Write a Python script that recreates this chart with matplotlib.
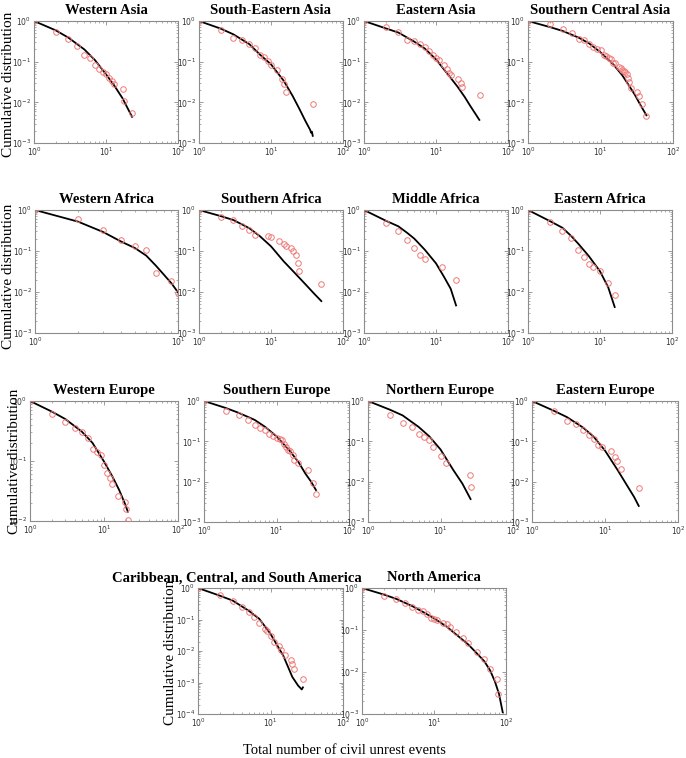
import matplotlib
matplotlib.use("Agg")
import matplotlib.pyplot as plt
from matplotlib.ticker import NullFormatter, LogLocator

plt.rcParams['mathtext.fontset'] = 'custom'
plt.rcParams['mathtext.rm'] = 'Liberation Sans'
plt.rcParams['mathtext.it'] = 'Liberation Sans'

# ---------------- data ----------------
titles = ["Western Asia", "South-Eastern Asia", "Eastern Asia", "Southern Central Asia",
          "Western Africa", "Southern Africa", "Middle Africa", "Eastern Africa",
          "Western Europe", "Southern Europe", "Northern Europe", "Eastern Europe",
          "Caribbean, Central, and South America", "North America"]

wasia_x = [1, 2, 3, 4, 5, 6, 7, 8, 9, 10, 11, 12, 13, 17, 18, 23]
wasia_y = [1, 0.54, 0.37, 0.24, 0.15, 0.125, 0.081, 0.065, 0.056, 0.049, 0.04, 0.034, 0.028, 0.021, 0.0108, 0.0056]
wasia_fx = [1, 2, 3, 5, 7, 10, 13, 17, 23]
wasia_fy = [1, 0.59, 0.39, 0.2, 0.11, 0.049, 0.026, 0.0125, 0.0044]

seasia_x = [1, 2, 3, 4, 5, 6, 7, 8, 9, 10, 12, 14, 15, 16, 38]
seasia_y = [1, 0.6, 0.39, 0.34, 0.27, 0.22, 0.15, 0.13, 0.104, 0.081, 0.062, 0.037, 0.028, 0.018, 0.0093]
seasia_fx = [1, 2, 3, 5, 7, 10, 15, 20, 25, 30, 35, 36, 37, 38]
seasia_fy = [1, 0.65, 0.47, 0.27, 0.15, 0.086, 0.034, 0.0143, 0.0067, 0.0035, 0.0021, 0.0018, 0.0019, 0.0015]

easia_x = [1, 2, 3, 4, 5, 6, 7, 8, 9, 10, 11, 13, 14, 15, 16, 20, 22, 23, 41]
easia_y = [1, 0.73, 0.55, 0.35, 0.32, 0.27, 0.23, 0.18, 0.15, 0.12, 0.11, 0.081, 0.067, 0.054, 0.046, 0.037, 0.03, 0.024, 0.0148]
easia_fx = [1, 2, 3, 5, 7, 10, 15, 20, 25, 30, 40]
easia_fy = [1, 0.66, 0.52, 0.31, 0.21, 0.114, 0.046, 0.024, 0.0136, 0.0081, 0.0037]

scasia_x = [1, 2, 3, 4, 5, 6, 7, 8, 9, 10, 11, 12, 13, 14, 15, 16, 18, 19, 20, 21, 22, 23.5, 24, 25, 26, 31.5, 34, 37.5, 43]
scasia_y = [1, 0.83, 0.62, 0.5, 0.37, 0.34, 0.27, 0.23, 0.21, 0.19, 0.15, 0.14, 0.12, 0.115, 0.094, 0.091, 0.074,
            0.069, 0.061, 0.059, 0.056, 0.049, 0.04, 0.032, 0.023, 0.018, 0.0143, 0.0093, 0.0046]
scasia_fx = [1, 2, 3, 5, 7, 10, 15, 20, 25, 30, 35, 43]
scasia_fy = [1, 0.71, 0.57, 0.39, 0.28, 0.17, 0.086, 0.046, 0.025, 0.015, 0.009, 0.0048]

wafr_x = [1, 2, 3, 4, 5, 6, 7, 9, 10]
wafr_y = [1, 0.61, 0.32, 0.19, 0.13, 0.104, 0.029, 0.019, 0.0097]
wafr_fx = [1, 2, 3, 4, 5, 6, 7, 8, 9, 10]
wafr_fy = [1, 0.52, 0.29, 0.17, 0.118, 0.077, 0.044, 0.026, 0.0163, 0.0098]

safr_x = [1, 2, 3, 4, 5, 6, 9, 10, 13, 15, 16, 19, 20.5, 22, 24, 24.5, 50]
safr_y = [1, 0.67, 0.58, 0.4, 0.32, 0.24, 0.23, 0.22, 0.18, 0.15, 0.13, 0.12, 0.1, 0.08, 0.05, 0.032, 0.016]
safr_fx = [1, 2, 3, 5, 7, 10, 15, 20, 30, 40, 50]
safr_fy = [1, 0.71, 0.57, 0.36, 0.23, 0.13, 0.056, 0.033, 0.0155, 0.009, 0.006]

mafr_x = [1, 2, 3, 4, 5, 6, 7, 12, 19]
mafr_y = [1, 0.49, 0.3, 0.19, 0.12, 0.08, 0.063, 0.041, 0.02]
mafr_fx = [1, 2, 3, 4, 5, 7, 10, 13, 16, 19]
mafr_fy = [1, 0.55, 0.4, 0.275, 0.2, 0.107, 0.05, 0.023, 0.012, 0.0047]

eafr_x = [1, 2, 3, 4, 5, 6, 7, 8, 10, 13, 16]
eafr_y = [1, 0.5, 0.31, 0.21, 0.106, 0.073, 0.048, 0.04, 0.033, 0.0164, 0.0085]
eafr_fx = [1, 2, 3, 4, 5, 7, 10, 13, 16]
eafr_fy = [1, 0.54, 0.37, 0.23, 0.15, 0.075, 0.032, 0.013, 0.0043]

weur_x = [1, 2, 3, 4, 5, 6, 7, 8, 9, 10, 11, 12, 13, 15.7, 19, 20, 21]
weur_y = [1, 0.6, 0.44, 0.36, 0.3, 0.24, 0.16, 0.14, 0.126, 0.086, 0.064, 0.053, 0.042, 0.026, 0.021, 0.016, 0.0105]
weur_fx = [1, 2, 3, 5, 7, 10, 13, 16, 19, 21]
weur_fy = [1, 0.66, 0.5, 0.31, 0.2, 0.098, 0.055, 0.033, 0.02, 0.0143]

seur_x = [1, 2, 3, 4, 5, 6, 7, 8, 9, 10, 11, 12, 12.6, 13.5, 14.5, 15.5, 17, 17.5, 19.5, 27.4, 32, 34.6]
seur_y = [1, 0.56, 0.44, 0.33, 0.26, 0.22, 0.195, 0.155, 0.135, 0.12, 0.112, 0.105, 0.084, 0.072, 0.062, 0.057,
          0.045, 0.034, 0.029, 0.02, 0.0095, 0.0049]
seur_fx = [1, 2, 3, 5, 7, 10, 15, 20, 25, 30, 35]
seur_fy = [1, 0.67, 0.51, 0.34, 0.227, 0.133, 0.06, 0.031, 0.0159, 0.01, 0.0062]

neur_x = [1, 2, 3, 4, 5, 6, 7, 8, 10, 12, 25.8, 26.5]
neur_y = [1, 0.46, 0.29, 0.227, 0.155, 0.128, 0.106, 0.073, 0.043, 0.029, 0.0149, 0.0074]
neur_fx = [1, 2, 3, 5, 7, 10, 15, 20, 26]
neur_fy = [1, 0.61, 0.44, 0.227, 0.133, 0.063, 0.0195, 0.009, 0.0037]

eeur_x = [1, 2, 3, 4, 5, 6, 7, 8, 9, 12, 13.5, 14.5, 16.5, 29]
eeur_y = [1, 0.55, 0.32, 0.27, 0.19, 0.14, 0.113, 0.081, 0.072, 0.056, 0.04, 0.033, 0.021, 0.007]
eeur_fx = [1, 2, 3, 5, 7, 10, 15, 20, 25, 29]
eeur_fy = [1, 0.57, 0.4, 0.22, 0.13, 0.059, 0.019, 0.0081, 0.0042, 0.0025]

csam_x = [1, 2, 3, 4, 5, 6, 7, 8.5, 9, 10, 11, 13, 14, 16, 19, 20, 21, 28.5]
csam_y = [1, 0.61, 0.38, 0.25, 0.17, 0.117, 0.078, 0.051, 0.042, 0.031, 0.019, 0.014, 0.011, 0.0076, 0.0052,
          0.0039, 0.0026, 0.0013]
csam_fx = [1, 2, 3, 5, 7, 10, 15, 20, 24, 27, 28]
csam_fy = [1, 0.57, 0.4, 0.19, 0.105, 0.035, 0.0071, 0.0015, 0.0008, 0.0006, 0.0007]

nam_x = [1, 2, 3, 4, 5, 6, 7, 8, 9, 10, 11, 13.5, 15, 16.5, 20, 25, 30, 40, 50, 60, 75, 78]
nam_y = [1, 0.65, 0.55, 0.45, 0.36, 0.3, 0.29, 0.24, 0.19, 0.18, 0.17, 0.15, 0.14, 0.12, 0.09, 0.065, 0.05,
         0.03, 0.02, 0.012, 0.007, 0.003]
nam_fx = [1, 2, 3, 5, 7, 10, 15, 20, 30, 40, 50, 60, 70, 80, 90]
nam_fy = [1, 0.7, 0.55, 0.37, 0.27, 0.19, 0.12, 0.08, 0.045, 0.027, 0.018, 0.011, 0.006, 0.003, 0.0011]

series = [(wasia_x, wasia_y, wasia_fx, wasia_fy), (seasia_x, seasia_y, seasia_fx, seasia_fy),
          (easia_x, easia_y, easia_fx, easia_fy), (scasia_x, scasia_y, scasia_fx, scasia_fy),
          (wafr_x, wafr_y, wafr_fx, wafr_fy), (safr_x, safr_y, safr_fx, safr_fy),
          (mafr_x, mafr_y, mafr_fx, mafr_fy), (eafr_x, eafr_y, eafr_fx, eafr_fy),
          (weur_x, weur_y, weur_fx, weur_fy), (seur_x, seur_y, seur_fx, seur_fy),
          (neur_x, neur_y, neur_fx, neur_fy), (eeur_x, eeur_y, eeur_fx, eeur_fy),
          (csam_x, csam_y, csam_fx, csam_fy), (nam_x, nam_y, nam_fx, nam_fy)]

xlims = [(1, 100)] * 4 + [(1, 10)] + [(1, 100)] * 9
ylims = [(1e-3, 1)] * 8 + [(1e-2, 1)] + [(1e-3, 1)] * 3 + [(1e-4, 1), (1e-3, 1)]

# ---------------- layout (pixels: left, top, right, bottom) ----------------
W, H = 686, 758
boxes = [(34, 21, 178, 143), (199, 21, 343, 143), (364, 21, 508, 143), (528, 21, 673, 143),
         (35, 210, 178, 333), (199, 210, 343, 333), (364, 210, 508, 333), (528, 210, 672, 333),
         (30, 401, 178, 521), (204, 401, 349, 522), (368, 401, 513, 522), (532, 401, 678, 522),
         (198, 588, 343, 714), (362, 588, 506, 714)]

fig = plt.figure(figsize=(W / 100, H / 100), dpi=100)
grey = '#8c8c8c'
for i, (b, s) in enumerate(zip(boxes, series)):
    l, t, r, bt = b
    ax = fig.add_axes([l / W, 1 - bt / H, (r - l) / W, (bt - t) / H])
    ax.set_xscale('log')
    ax.set_yscale('log')
    px, py, fx, fy = s
    ax.plot(fx, fy, color='black', lw=1.3, zorder=2)
    ax.plot(px, py, linestyle='none', marker='o', markersize=4, markerfacecolor='none',
            markeredgecolor='#f07878', markeredgewidth=0.7, zorder=3)
    ax.set_xlim(*xlims[i])
    ax.set_ylim(*ylims[i])
    ax.xaxis.set_major_locator(LogLocator(base=10, numticks=10))
    ax.yaxis.set_major_locator(LogLocator(base=10, numticks=10))
    ax.xaxis.set_minor_locator(LogLocator(base=10, subs=range(2, 10), numticks=10))
    ax.yaxis.set_minor_locator(LogLocator(base=10, subs=range(2, 10), numticks=10))
    ax.xaxis.set_minor_formatter(NullFormatter())
    ax.yaxis.set_minor_formatter(NullFormatter())
    for sp in ax.spines.values():
        sp.set_color(grey)
        sp.set_linewidth(0.8)
    ax.tick_params(which='both', direction='in', top=True, right=True, colors=grey,
                   labelcolor='#333333', labelsize=5.5, pad=2)
    ax.tick_params(which='major', length=3, width=0.6)
    ax.tick_params(which='minor', length=1.5, width=0.5)
    tx = 0.5
    if i == 12:
        tx = 0.27
    ax.set_title(titles[i], fontsize=10.5, fontweight='bold', family='Liberation Serif', pad=5, x=tx)

# y labels
for (xc, yc) in [(9, 84), (9, 276), (15, 461), (170, 652)]:
    fig.text(xc / W, 1 - yc / H, "Cumulative distribution", rotation=90, ha='center', va='center',
             fontsize=11, family='Liberation Serif')

fig.text(344 / W, 1 - 750 / H, "Total number of civil unrest events", ha='center', va='center',
         fontsize=10.5, family='Liberation Serif')

fig.savefig('out.png', dpi=100)
